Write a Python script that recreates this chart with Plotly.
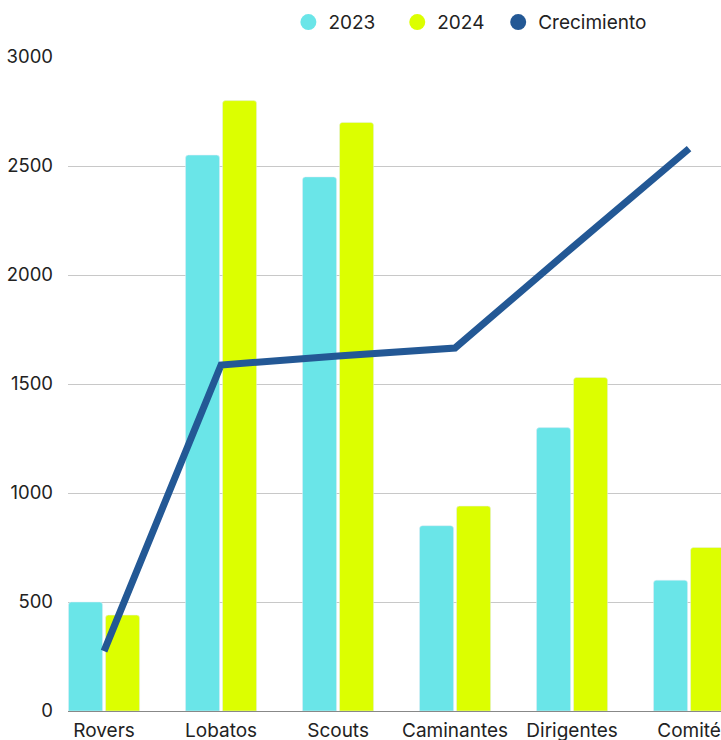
import plotly.graph_objects as go

categories = ["Rovers", "Lobatos", "Scouts", "Caminantes", "Dirigentes", "Comité"]
values_2023 = [500, 2550, 2450, 850, 1300, 600]
values_2024 = [440, 2800, 2700, 940, 1530, 750]
crecimiento = [275, 1587, 1628, 1665, 2125, 2580]
y_ticks = [0, 500, 1000, 1500, 2000, 2500, 3000]

c2023 = "#6ae5e8"
c2024 = "#dcff00"
cline = "#235895"
font_family = "Inter, Lato, sans-serif"

fig = go.Figure()
fig.add_trace(go.Bar(x=categories, y=values_2023, name="2023", marker_color=c2023,
                     showlegend=False))
fig.add_trace(go.Bar(x=categories, y=values_2024, name="2024", marker_color=c2024,
                     showlegend=False))
fig.add_trace(go.Scatter(x=categories, y=crecimiento, name="Crecimiento", mode="lines",
                         line=dict(color=cline, width=7), showlegend=False))

# legend entries with circle markers, each in its own legend for exact placement
legend_items = [("2023", c2023, "legend"), ("2024", c2024, "legend2"),
                ("Crecimiento", cline, "legend3")]
for name, col, lg in legend_items:
    fig.add_trace(go.Scatter(x=[None], y=[None], mode="markers", name=name, legend=lg,
                             marker=dict(color=col, size=18, symbol="circle")))

def legend_at(xpos):
    return dict(orientation="h", xref="container", yref="container",
                x=xpos, xanchor="left", y=0.970, yanchor="middle",
                font=dict(size=19), bgcolor="rgba(0,0,0,0)")

fig.update_layout(
    width=721, height=740,
    margin=dict(l=68, r=0, t=57, b=29),
    plot_bgcolor="white", paper_bgcolor="white",
    font=dict(family=font_family, size=18.5, color="#222222"),
    barmode="group", bargap=0.367, bargroupgap=0.08,
    barcornerradius=3,
    legend=legend_at(0.400),
    legend2=legend_at(0.551),
    legend3=legend_at(0.691),
    xaxis=dict(range=[-0.308, 5.273], showgrid=False, showline=True, linecolor="#888888",
               linewidth=1, ticks="", automargin=False, ticklabelstandoff=2,
               tickfont=dict(size=19)),
    yaxis=dict(range=[0, 3000], tickvals=y_ticks, showgrid=True, gridcolor="#c8c8c8",
               gridwidth=1, zeroline=False, showline=False, ticks="",
               automargin=False, ticklabelstandoff=14),
)

fig.write_html("out.html", config={"displayModeBar": False},
               post_script="document.body.style.margin='0';")
